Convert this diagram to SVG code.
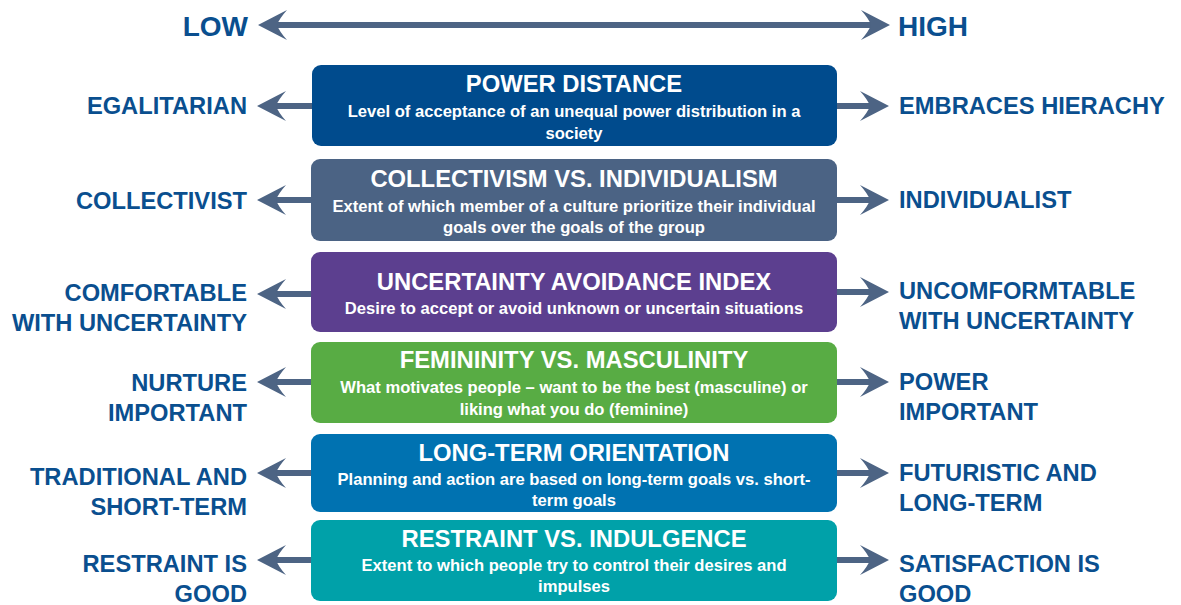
<svg xmlns="http://www.w3.org/2000/svg" width="1181" height="605" viewBox="0 0 1181 605">
<style>
.lbl{font-family:"Liberation Sans",Arial,sans-serif;font-weight:bold;font-size:23.7px;fill:#0a4f8f}
.big{font-size:28px}
.l{text-anchor:end}
.t{font-family:"Liberation Sans",Arial,sans-serif;font-weight:bold;font-size:23.8px;fill:#fff;text-anchor:middle}
.s{font-family:"Liberation Sans",Arial,sans-serif;font-weight:bold;font-size:16.6px;fill:#fff;text-anchor:middle}
.ln{stroke:#4d6484;stroke-width:6;fill:none;marker-end:url(#ah)}
.ln2{stroke:#4d6484;stroke-width:6;fill:none;marker-start:url(#ah);marker-end:url(#ah)}
</style>
<defs>
<marker id="ah" markerUnits="userSpaceOnUse" viewBox="-30 -16 31 32" refX="-14" refY="0" markerWidth="31" markerHeight="32" orient="auto-start-reverse">
<path d="M0,0 L-29,-15 Q-21,-6 -19,0 Q-21,6 -29,15 Z" fill="#4d6484"/>
</marker>
</defs>
<g id="connectors">
<path class="ln2" d="M272,25 H876"/>
<path class="ln" d="M320,106 H271"/><path class="ln" d="M830,106 H875"/>
<path class="ln" d="M320,200 H271"/><path class="ln" d="M830,200 H875"/>
<path class="ln" d="M320,294 H271"/><path class="ln" d="M830,292 H875"/>
<path class="ln" d="M320,382 H271"/><path class="ln" d="M830,382 H875"/>
<path class="ln" d="M320,473 H271"/><path class="ln" d="M830,473 H875"/>
<path class="ln" d="M320,560 H271"/><path class="ln" d="M830,560 H875"/>
</g>
<g id="scale">
<text class="lbl big l" x="248" y="36">LOW</text>
<text class="lbl big" x="898" y="36">HIGH</text>
</g>
<g id="power-distance">
<rect x="312" y="65" width="525" height="81" rx="9" fill="#004b8d"/>
<text class="t" x="574" y="92">POWER DISTANCE</text>
<text class="s" x="574" y="117">Level of acceptance of an unequal power distribution in a</text>
<text class="s" x="574" y="139">society</text>
<text class="lbl l" x="247" y="114">EGALITARIAN</text>
<text class="lbl" x="899" y="114">EMBRACES HIERACHY</text>
</g>
<g id="collectivism">
<rect x="311" y="159" width="526" height="82" rx="9" fill="#4b6384"/>
<text class="t" x="574" y="187">COLLECTIVISM VS. INDIVIDUALISM</text>
<text class="s" x="574" y="212">Extent of which member of a culture prioritize their individual</text>
<text class="s" x="574" y="233">goals over the goals of the group</text>
<text class="lbl l" x="247" y="209">COLLECTIVIST</text>
<text class="lbl" x="899" y="208">INDIVIDUALIST</text>
</g>
<g id="uncertainty">
<rect x="311" y="252" width="526" height="80" rx="9" fill="#5c3f8f"/>
<text class="t" x="574" y="290">UNCERTAINTY AVOIDANCE INDEX</text>
<text class="s" x="574" y="314">Desire to accept or avoid unknown or uncertain situations</text>
<text class="lbl l" x="247" y="301">COMFORTABLE</text>
<text class="lbl l" x="247" y="331">WITH UNCERTAINTY</text>
<text class="lbl" x="899" y="299">UNCOMFORMTABLE</text>
<text class="lbl" x="899" y="329">WITH UNCERTAINTY</text>
</g>
<g id="femininity">
<rect x="311" y="342" width="526" height="81" rx="9" fill="#58ac44"/>
<text class="t" x="574" y="368">FEMININITY VS. MASCULINITY</text>
<text class="s" x="574" y="393">What motivates people – want to be the best (masculine) or</text>
<text class="s" x="574" y="415">liking what you do (feminine)</text>
<text class="lbl l" x="247" y="391">NURTURE</text>
<text class="lbl l" x="247" y="421">IMPORTANT</text>
<text class="lbl" x="899" y="390">POWER</text>
<text class="lbl" x="899" y="420">IMPORTANT</text>
</g>
<g id="long-term">
<rect x="311" y="434" width="526" height="78" rx="9" fill="#0072b1"/>
<text class="t" x="574" y="461">LONG-TERM ORIENTATION</text>
<text class="s" x="574" y="485">Planning and action are based on long-term goals vs. short-</text>
<text class="s" x="574" y="506">term goals</text>
<text class="lbl l" x="247" y="485">TRADITIONAL AND</text>
<text class="lbl l" x="247" y="515">SHORT-TERM</text>
<text class="lbl" x="899" y="481">FUTURISTIC AND</text>
<text class="lbl" x="899" y="511">LONG-TERM</text>
</g>
<g id="restraint">
<rect x="311" y="520" width="526" height="81" rx="9" fill="#00a1a9"/>
<text class="t" x="574" y="547">RESTRAINT VS. INDULGENCE</text>
<text class="s" x="574" y="571">Extent to which people try to control their desires and</text>
<text class="s" x="574" y="592">impulses</text>
<text class="lbl l" x="247" y="572">RESTRAINT IS</text>
<text class="lbl l" x="247" y="602">GOOD</text>
<text class="lbl" x="899" y="572">SATISFACTION IS</text>
<text class="lbl" x="899" y="602">GOOD</text>
</g>
</svg>
